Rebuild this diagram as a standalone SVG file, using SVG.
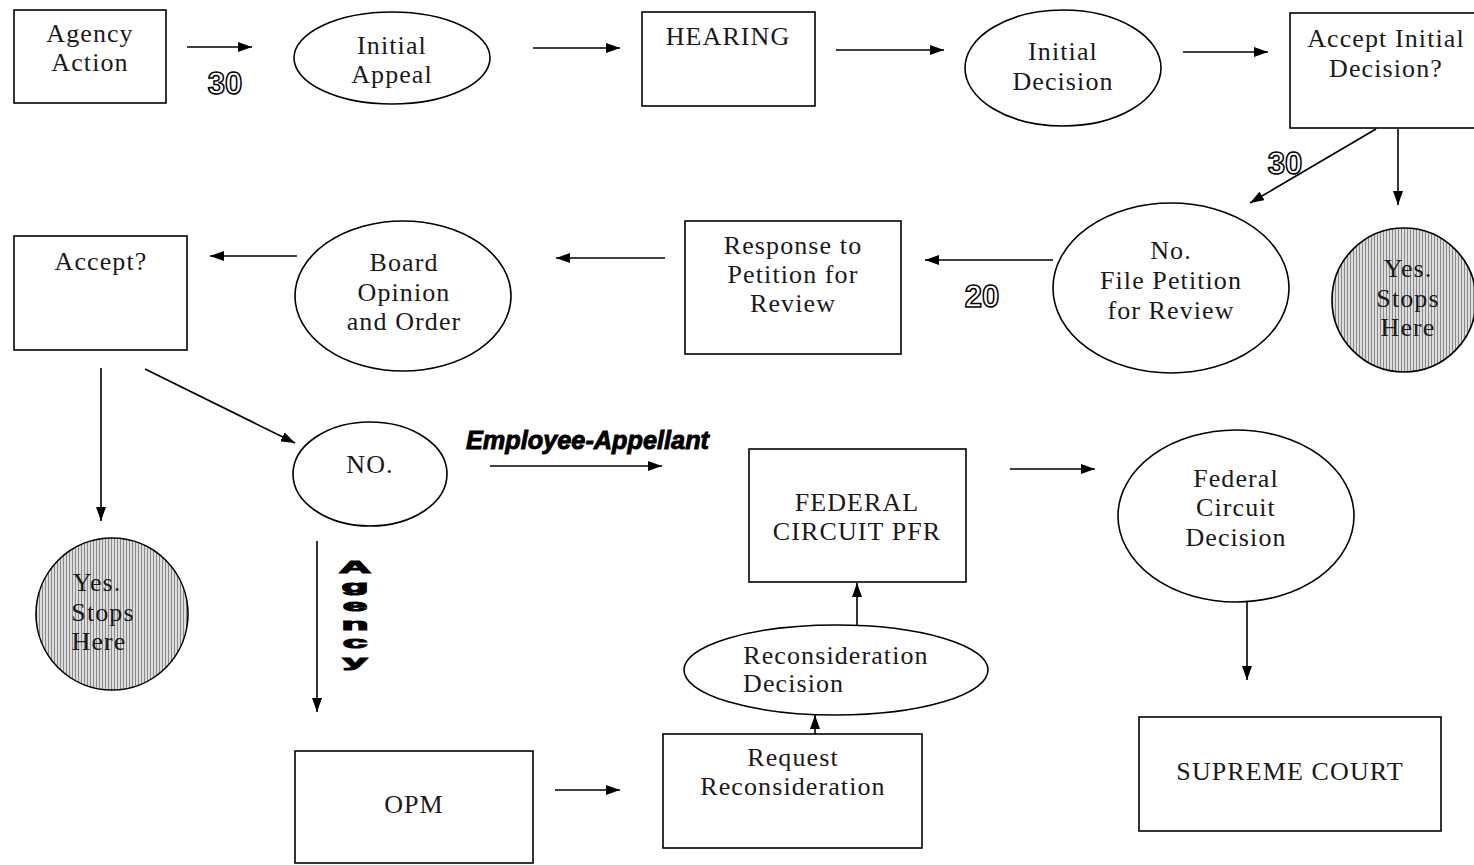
<svg xmlns="http://www.w3.org/2000/svg" width="1474" height="865" viewBox="0 0 1474 865">
<style>
.n{fill:#fff;stroke:#000;stroke-width:1.6}
.t{font-family:"Liberation Serif","Times New Roman",serif;font-size:26px;letter-spacing:1.1px;fill:#1a1a1a;text-anchor:middle}
.c{fill:none;stroke:#000;stroke-width:1.6}
.num{font-family:"Liberation Sans Narrow","Liberation Sans",sans-serif;font-weight:bold;font-size:31px;fill:#fff;stroke:#000;stroke-width:1.5;text-anchor:middle}
.lab{font-family:"Liberation Sans",Arial,sans-serif;font-weight:bold;font-style:italic;font-size:25px;fill:#000;stroke:#000;stroke-width:0.9}
.ag{font-family:"Liberation Sans",Arial,sans-serif;font-weight:bold;font-size:17px;fill:#000;stroke:#000;stroke-width:1.1;writing-mode:vertical-rl;text-orientation:upright;text-anchor:start}
.shade{fill:url(#stripes);stroke:#000;stroke-width:1.6}
</style>
<defs>
<marker id="ah" viewBox="0 0 14 10" refX="14" refY="5" markerWidth="14" markerHeight="10" markerUnits="userSpaceOnUse" orient="auto">
<path d="M0,0 L14,5 L0,10 z" fill="#000"/>
</marker>
<pattern id="stripes" width="3" height="4" patternUnits="userSpaceOnUse">
<rect width="3" height="4" fill="#dcdcdc"/>
<rect width="1" height="4" fill="#8a8a8a"/>
</pattern>
</defs>
<rect width="1474" height="865" fill="#fff"/>

<g id="connectors">
<line class="c" x1="187" y1="47" x2="252" y2="47" marker-end="url(#ah)"/>
<line class="c" x1="533" y1="48" x2="620" y2="48" marker-end="url(#ah)"/>
<line class="c" x1="836" y1="50" x2="944" y2="50" marker-end="url(#ah)"/>
<line class="c" x1="1183" y1="52" x2="1268" y2="52" marker-end="url(#ah)"/>
<line class="c" x1="1376" y1="129" x2="1250" y2="203" marker-end="url(#ah)"/>
<line class="c" x1="1398" y1="129" x2="1398" y2="205" marker-end="url(#ah)"/>
<line class="c" x1="1053" y1="260" x2="925" y2="260" marker-end="url(#ah)"/>
<line class="c" x1="665" y1="258" x2="556" y2="258" marker-end="url(#ah)"/>
<line class="c" x1="297" y1="256" x2="210" y2="256" marker-end="url(#ah)"/>
<line class="c" x1="101" y1="368" x2="101" y2="521" marker-end="url(#ah)"/>
<line class="c" x1="145" y1="369" x2="295" y2="443" marker-end="url(#ah)"/>
<line class="c" x1="490" y1="466" x2="662" y2="466" marker-end="url(#ah)"/>
<line class="c" x1="317" y1="541" x2="317" y2="712" marker-end="url(#ah)"/>
<line class="c" x1="555" y1="790" x2="620" y2="790" marker-end="url(#ah)"/>
<line class="c" x1="815" y1="734" x2="815" y2="715" marker-end="url(#ah)"/>
<line class="c" x1="857" y1="625" x2="857" y2="583" marker-end="url(#ah)"/>
<line class="c" x1="1010" y1="469" x2="1095" y2="469" marker-end="url(#ah)"/>
<line class="c" x1="1247" y1="583" x2="1247" y2="680" marker-end="url(#ah)"/>
<text class="num" x="225" y="94">30</text>
<text class="num" x="1285" y="174">30</text>
<text class="num" x="982" y="307">20</text>
<text class="lab" x="466" y="449" textLength="243" lengthAdjust="spacingAndGlyphs">Employee-Appellant</text>
<text id="agency-label" class="ag" x="0" y="0" transform="translate(355,558) scale(2.6,1)">Agency</text>
</g>

<g id="agency-action">
<rect class="n" x="14" y="10" width="152" height="93"/>
<text class="t" x="90" y="42">Agency</text>
<text class="t" x="90" y="71">Action</text>
</g>
<g id="initial-appeal">
<ellipse class="n" cx="392" cy="58" rx="98" ry="46"/>
<text class="t" x="392" y="54">Initial</text>
<text class="t" x="392" y="83">Appeal</text>
</g>
<g id="hearing">
<rect class="n" x="642" y="12" width="173" height="94"/>
<text class="t" x="728" y="45">HEARING</text>
</g>
<g id="initial-decision">
<ellipse class="n" cx="1063" cy="68" rx="98" ry="58"/>
<text class="t" x="1063" y="60">Initial</text>
<text class="t" x="1063" y="90">Decision</text>
</g>
<g id="accept-initial">
<rect class="n" x="1290" y="13" width="186" height="115"/>
<text class="t" x="1386" y="47">Accept Initial</text>
<text class="t" x="1386" y="77">Decision?</text>
</g>
<g id="yes-stops-right">
<circle class="shade" cx="1404" cy="300" r="72"/>
<text class="t" x="1408" y="277">Yes.</text>
<text class="t" x="1408" y="307">Stops</text>
<text class="t" x="1408" y="336">Here</text>
</g>
<g id="file-petition">
<ellipse class="n" cx="1171" cy="288" rx="118" ry="85"/>
<text class="t" x="1171" y="259">No.</text>
<text class="t" x="1171" y="289">File Petition</text>
<text class="t" x="1171" y="319">for Review</text>
</g>
<g id="response">
<rect class="n" x="685" y="221" width="216" height="133"/>
<text class="t" x="793" y="254">Response to</text>
<text class="t" x="793" y="283">Petition for</text>
<text class="t" x="793" y="312">Review</text>
</g>
<g id="board-opinion">
<ellipse class="n" cx="403" cy="296" rx="108" ry="75"/>
<text class="t" x="404" y="271">Board</text>
<text class="t" x="404" y="301">Opinion</text>
<text class="t" x="404" y="330">and Order</text>
</g>
<g id="accept">
<rect class="n" x="14" y="236" width="173" height="114"/>
<text class="t" x="101" y="270">Accept?</text>
</g>
<g id="yes-stops-left">
<circle class="shade" cx="112" cy="614" r="76"/>
<text class="t" x="97" y="591">Yes.</text>
<text class="t" x="103" y="621">Stops</text>
<text class="t" x="99" y="650">Here</text>
</g>
<g id="no">
<ellipse class="n" cx="370" cy="474" rx="77" ry="52"/>
<text class="t" x="370" y="473">NO.</text>
</g>
<g id="federal-pfr">
<rect class="n" x="749" y="449" width="217" height="133"/>
<text class="t" x="857" y="511">FEDERAL</text>
<text class="t" x="857" y="540">CIRCUIT PFR</text>
</g>
<g id="federal-decision">
<ellipse class="n" cx="1236" cy="516" rx="118" ry="86"/>
<text class="t" x="1236" y="487">Federal</text>
<text class="t" x="1236" y="516">Circuit</text>
<text class="t" x="1236" y="546">Decision</text>
</g>
<g id="supreme-court">
<rect class="n" x="1139" y="717" width="302" height="114"/>
<text class="t" x="1290" y="780">SUPREME COURT</text>
</g>
<g id="opm">
<rect class="n" x="295" y="751" width="238" height="112"/>
<text class="t" x="414" y="813">OPM</text>
</g>
<g id="request-reconsideration">
<rect class="n" x="663" y="734" width="259" height="114"/>
<text class="t" x="793" y="766">Request</text>
<text class="t" x="793" y="795">Reconsideration</text>
</g>
<g id="reconsideration-decision">
<ellipse class="n" cx="836" cy="670" rx="152" ry="45"/>
<text class="t" x="836" y="664">Reconsideration</text>
<text class="t" x="743" y="692" style="text-anchor:start">Decision</text>
</g>
</svg>
